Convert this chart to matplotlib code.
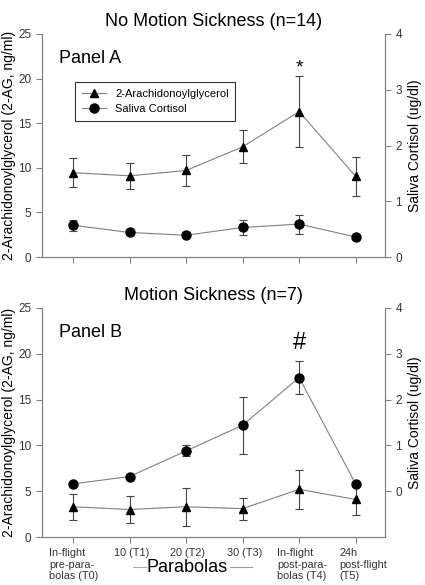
import matplotlib
matplotlib.use("Agg")
import matplotlib.pyplot as plt
import matplotlib.lines as mlines
import matplotlib.transforms as mtrans

plt.rcParams['font.family'] = ['Liberation Sans', 'DejaVu Sans']

x_labels = ["In-flight\npre-para-\nbolas (T0)", "10 (T1)", "20 (T2)", "30 (T3)",
            "In-flight\npost-para-\nbolas (T4)", "24h\npost-flight\n(T5)"]
pos = [0, 1, 2, 3, 4, 5]

# Panel A: no motion sickness
ag_a = [9.45, 9.1, 9.7, 12.35, 16.3, 9.05]
ag_a_err = [1.6, 1.45, 1.75, 1.85, 4.0, 2.2]
cort_a = [0.57, 0.44, 0.39, 0.53, 0.59, 0.36]
cort_a_err = [0.1, 0.0, 0.0, 0.14, 0.17, 0.0]

# Panel B: motion sickness
ag_b = [3.3, 3.0, 3.3, 3.1, 5.2, 4.1]
ag_b_err = [1.4, 1.5, 2.05, 1.2, 2.15, 1.65]
cort_b = [0.16, 0.32, 0.88, 1.44, 2.48, 0.16]
cort_b_err = [0.0, 0.0, 0.12, 0.62, 0.36, 0.0]

W, H = 425, 585
fig = plt.figure(figsize=(W / 100, H / 100), dpi=100)
gray = '#808080'

def make_panel(top, bottom, ag, ag_err, cort, cort_err, r_ylim, title, label, mark, mark_y, mark_fs):
    ax = fig.add_axes([42 / W, 1 - bottom / H, (385 - 42) / W, (bottom - top) / H])
    ax2 = ax.twinx()
    ax.errorbar(pos, ag, yerr=ag_err, color=gray, lw=0.8, marker='^', ms=6, mfc='black', mec='black',
                ecolor='#444444', elinewidth=0.8, capsize=3, capthick=0.8)
    ax2.errorbar(pos, cort, yerr=cort_err, color=gray, lw=0.8, marker='o', ms=6.5, mfc='black', mec='black',
                 ecolor='#444444', elinewidth=0.8, capsize=3, capthick=0.8)
    ax.set_ylim(0, 25)
    ax.set_yticks([0, 5, 10, 15, 20, 25])
    ax2.set_ylim(*r_ylim)
    ax2.set_yticks([0, 1, 2, 3, 4])
    ax.set_xlim(-0.55, 5.52)
    ax.set_xticks(pos)
    for a in (ax, ax2):
        for s in a.spines.values():
            s.set_color(gray)
        a.spines['top'].set_visible(False)
        a.tick_params(colors='#333333', labelsize=8.5, length=4, width=0.8)
        a.tick_params(axis='both', color=gray)
    ax.set_ylabel('2-Arachidonoylglycerol (2-AG, ng/ml)', fontsize=10, labelpad=2)
    ax2.set_ylabel('Saliva Cortisol (ug/dl)', fontsize=10, labelpad=4)
    ax.set_title(title, fontsize=13, pad=6)
    ax.text(0.05, 0.93, label, transform=ax.transAxes, fontsize=13, va='top')
    ax.text(4, mark_y, mark, ha='center', va='center', fontsize=mark_fs)
    return ax, ax2

axA, axA2 = make_panel(34, 257, ag_a, ag_a_err, cort_a, cort_a_err, (0, 4),
                       'No Motion Sickness (n=14)', 'Panel A', '*', 21.2, 14)
axA.set_xticklabels([])
h1 = mlines.Line2D([], [], color=gray, lw=0.8, marker='^', ms=6, mfc='black', mec='black')
h2 = mlines.Line2D([], [], color=gray, lw=0.8, marker='o', ms=6.5, mfc='black', mec='black')
leg = axA.legend([h1, h2], ['2-Arachidonoylglycerol', 'Saliva Cortisol'], loc='upper left',
                 bbox_to_anchor=(0.08, 0.81), fontsize=8, fancybox=False, edgecolor='black',
                 borderpad=0.6, handlelength=2.2)
leg.get_frame().set_linewidth(0.8)

axB, axB2 = make_panel(308, 537, ag_b, ag_b_err, cort_b, cort_b_err, (-1, 4),
                       'Motion Sickness (n=7)', 'Panel B', '#', 21.2, 17)
axB.set_xticklabels(x_labels, fontsize=7.8, ha='left', linespacing=1.2)
axB.tick_params(axis='x', pad=4)
for t, dx in zip(axB.get_xticklabels(), [-24, -16, -16, -16, -22, -16]):
    t.set_transform(t.get_transform() + mtrans.ScaledTranslation(dx / 100, 0, fig.dpi_scale_trans))

fig.text(187 / W, 1 - 567 / H, 'Parabolas', ha='center', va='center', fontsize=13)
fig.add_artist(mlines.Line2D([133 / W, 146 / W], [1 - 567 / H] * 2, color='#aaaaaa', lw=0.8))
fig.add_artist(mlines.Line2D([230 / W, 252 / W], [1 - 567 / H] * 2, color='#999999', lw=0.8))

fig.savefig('out.png', dpi=100)
